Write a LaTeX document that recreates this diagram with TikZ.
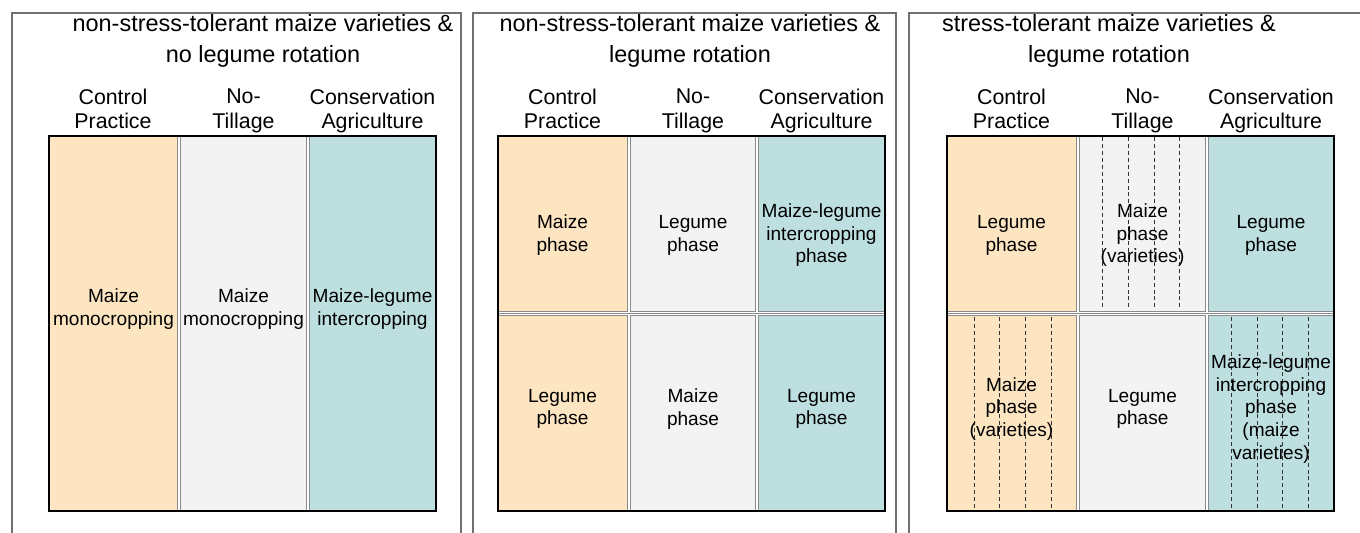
\documentclass[tikz,border=0pt]{standalone}
\usepackage{fontspec}
\setmainfont{Liberation Sans}
\definecolor{peach}{HTML}{FDE5C1}
\definecolor{lgray}{HTML}{F3F3F3}
\definecolor{tealc}{HTML}{BEDFE0}
\definecolor{framegray}{HTML}{707070}
\definecolor{cellgray}{HTML}{8A8A8A}
\newcommand{\st}{\vphantom{Ag}}
\begin{document}
\begin{tikzpicture}[x=0.75pt,y=-0.75pt,
  frame/.style={draw=framegray,line width=0.9pt},
  cellb/.style={draw=cellgray,line width=0.7pt},
  outerb/.style={draw=black,line width=1.9pt},
  sep/.style={draw=cellgray,line width=0.7pt},
  dsh/.style={draw=black!80,line width=0.7pt,dash pattern=on 3pt off 2.2pt},
  ttl/.style={font=\fontsize{17.6}{23}\selectfont,align=center,inner sep=0pt},
  hdr/.style={font=\fontsize{16}{18.5}\selectfont,align=center,inner sep=0pt},
  lbl/.style={font=\fontsize{14.3}{17}\selectfont,align=center,inner sep=0pt}]
\useasboundingbox (0,0) rectangle (1360,532);
\fill[white] (0,0) rectangle (1360,532);

% panel frames
\draw[frame] (12,533) -- (12,13) -- (461,13) -- (461,533);
\draw[frame] (473,533) -- (473,13) -- (896,13) -- (896,533);
\draw[frame] (909,533) -- (909,13) -- (1362,13);

% ---------- panel 1 ----------
\draw[cellb,fill=peach] (49,136) rectangle (177.5,511);
\draw[cellb,fill=lgray] (180.5,136) rectangle (306.5,511);
\draw[cellb,fill=tealc] (309.5,136) rectangle (436,511);
\draw[outerb] (49,136) rectangle (436,511);

% ---------- panel 2 ----------
\draw[cellb,fill=peach] (498,136) rectangle (627.5,311);
\draw[cellb,fill=lgray] (630.5,136) rectangle (755.5,311);
\draw[cellb,fill=tealc] (758.5,136) rectangle (885,311);
\draw[cellb,fill=peach] (498,315.5) rectangle (627.5,511);
\draw[cellb,fill=lgray] (630.5,315.5) rectangle (755.5,511);
\draw[cellb,fill=tealc] (758.5,315.5) rectangle (885,511);
\draw[sep] (498,313) -- (885,313);
\draw[outerb] (498,136) rectangle (885,511);

% ---------- panel 3 ----------
\draw[cellb,fill=peach] (947,136) rectangle (1076.5,311);
\draw[cellb,fill=lgray] (1079.5,136) rectangle (1205.5,311);
\draw[cellb,fill=tealc] (1208.5,136) rectangle (1334,311);
\draw[cellb,fill=peach] (947,315.5) rectangle (1076.5,511);
\draw[cellb,fill=lgray] (1079.5,315.5) rectangle (1205.5,511);
\draw[cellb,fill=tealc] (1208.5,315.5) rectangle (1334,511);
\draw[sep] (947,313) -- (1334,313);
\foreach \x in {1102,1128,1154,1179} \draw[dsh] (\x,137) -- (\x,310);
\foreach \x in {974,999,1025,1051} \draw[dsh] (\x,317) -- (\x,510);
\foreach \x in {1231,1257,1282,1308} \draw[dsh] (\x,317) -- (\x,510);
\draw[outerb] (947,136) rectangle (1334,511);

% ---------- titles ----------
\node[ttl] (t1) at (263,41) {\st non-stress-tolerant maize varieties \&\\no legume rotation\st};
\node[ttl] (t2) at (690,41) {\st non-stress-tolerant maize varieties \&\\legume rotation\st};
\node[ttl] (t3) at (1109,41) {\st stress-tolerant maize varieties \&\\legume rotation\st};

% ---------- headers ----------
\node[hdr] (h1a) at (113,111) {\st Control\\Practice\st};
\node[hdr] (h1b) at (243.5,111) {\st No-\\Tillage\st};
\node[hdr] (h1c) at (372.5,111) {\st Conservation\\Agriculture\st};
\node[hdr] (h2a) at (562.5,111) {\st Control\\Practice\st};
\node[hdr] (h2b) at (693,111) {\st No-\\Tillage\st};
\node[hdr] (h2c) at (821.5,111) {\st Conservation\\Agriculture\st};
\node[hdr] (h3a) at (1011.5,111) {\st Control\\Practice\st};
\node[hdr] (h3b) at (1142.5,111) {\st No-\\Tillage\st};
\node[hdr] (h3c) at (1271,111) {\st Conservation\\Agriculture\st};

% ---------- cell labels ----------
\node[lbl] (c1a) at (113.5,309.2) {\st Maize\\monocropping\st};
\node[lbl] (c1b) at (243.5,309.2) {\st Maize\\monocropping\st};
\node[lbl] (c1c) at (372.5,309.2) {\st Maize-legume\\intercropping\st};

\node[lbl] (c2a) at (562.5,235.2) {\st Maize\\phase\st};
\node[lbl] (c2b) at (693,235.2) {\st Legume\\phase\st};
\node[lbl] (c2c) at (821.5,235.2) {\st Maize-legume\\intercropping\\phase\st};
\node[lbl] (c2d) at (562.5,409) {\st Legume\\phase\st};
\node[lbl] (c2e) at (693,409) {\st Maize\\phase\st};
\node[lbl] (c2f) at (821.5,409) {\st Legume\\phase\st};

\node[lbl] (c3a) at (1011.5,235.2) {\st Legume\\phase\st};
\node[lbl] (c3b) at (1142.5,235.2) {\st Maize\\phase\\(varieties)\st};
\node[lbl] (c3c) at (1271,235.2) {\st Legume\\phase\st};
\node[lbl] (c3d) at (1011.5,409) {\st Maize\\phase\\(varieties)\st};
\node[lbl] (c3e) at (1142.5,409) {\st Legume\\phase\st};
\node[lbl] (c3f) at (1271,409) {\st Maize-legume\\intercropping\\phase\\(maize\\varieties)\st};
\end{tikzpicture}
\end{document}
